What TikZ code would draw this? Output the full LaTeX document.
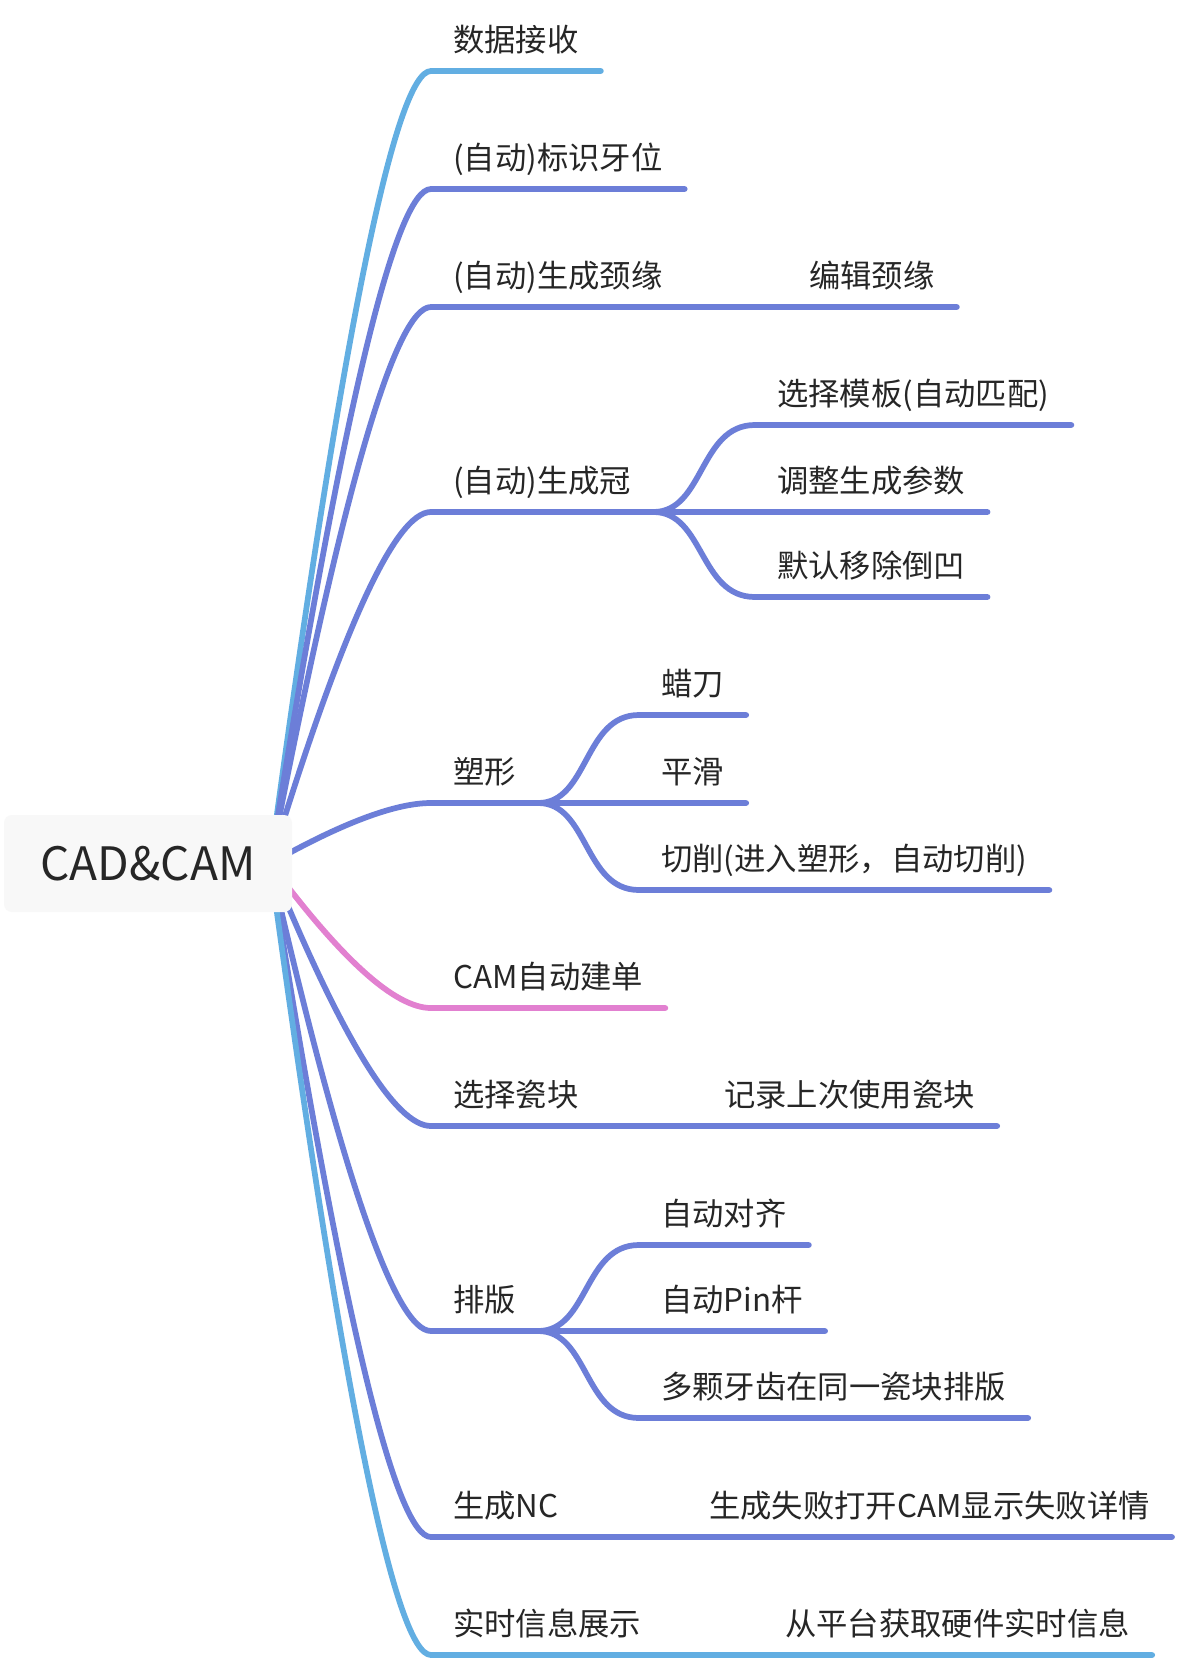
\documentclass[tikz,border=0pt]{standalone}
\usepackage{fontspec}
\setmainfont{Noto Sans CJK SC}
\usetikzlibrary{calc,backgrounds}
\definecolor{linepurple}{RGB}{108,126,216}
\definecolor{lineblue}{RGB}{98,174,226}
\definecolor{linepink}{RGB}{226,128,208}
\definecolor{textgray}{RGB}{38,38,38}
\definecolor{rootfill}{RGB}{248,248,248}
\tikzset{
	topic/.style={anchor=south west, inner xsep=16.5pt, inner ysep=14.5pt, text depth=0pt, text=textgray, font=\fontsize{23.5}{28}\selectfont},
	rootbox/.style={fill=rootfill, rounded corners=6pt, minimum width=216pt, minimum height=72.75pt, text=textgray, font=\fontsize{34.5}{40}\selectfont},
	branch/.style={line width=4.3pt, line cap=round, line join=round, draw=linepurple},
	curve/.style={to path={let \p1=(\tikztostart), \p2=(\tikztotarget) in .. controls ({\x1+0.444*(\x2-\x1)}, {\y1+0.667*(\y2-\y1)}) and ({\x2-0.222*(\x2-\x1)}, \y2) .. (\tikztotarget)}},
	scurve/.style={to path={let \p1=(\tikztostart), \p2=(\tikztotarget) in .. controls ({\x1+0.5*(\x2-\x1)}, \y1) and ({\x1+0.45*(\x2-\x1)}, \y2) .. (\tikztotarget)}}
}

\begin{document}
\begin{tikzpicture}[x=0.75pt, y=-0.75pt]
		%%%%% START %%%%%
		\useasboundingbox (0, 0) rectangle (1190, 1662);
		
		\node[rootbox] (root) at (148, 863.5) {CAD\&CAM};
		\coordinate (hub) at ([xshift=-16.5pt]root.east);
		
		\node[topic] (recv) at (431, 71) {数据接收};
		\node[topic] (mark) at (431, 189) {(自动)标识牙位};
		\node[topic] (margin) at (431, 307) {(自动)生成颈缘};
		\node[topic] (edit) at (787, 307) {编辑颈缘};
		
		\node[topic] (crown) at (431, 512) {(自动)生成冠};
		\node[topic] (tmpl) at (755, 425) {选择模板(自动匹配)};
		\node[topic] (param) at (755, 512) {调整生成参数};
		\node[topic] (undercut) at (755, 597) {默认移除倒凹};
		
		\node[topic] (shape) at (431, 803) {塑形};
		\node[topic] (wax) at (639, 715) {蜡刀};
		\node[topic] (smooth) at (639, 803) {平滑};
		\node[topic] (cut) at (639, 890) {切削(进入塑形，自动切削)};
		
		\node[topic] (order) at (431, 1008) {CAM自动建单};
		\node[topic] (block) at (431, 1126) {选择瓷块};
		\node[topic] (lastblock) at (702, 1126) {记录上次使用瓷块};
		
		\node[topic] (nest) at (431, 1331) {排版};
		\node[topic] (align) at (639, 1245) {自动对齐};
		\node[topic] (pin) at (639, 1331) {自动Pin杆};
		\node[topic] (multi) at (639, 1418) {多颗牙齿在同一瓷块排版};
		
		\node[topic] (nc) at (431, 1537) {生成NC};
		\node[topic] (ncfail) at (687, 1537) {生成失败打开CAM显示失败详情};
		\node[topic] (info) at (431, 1655) {实时信息展示};
		\node[topic] (hwinfo) at (763, 1655) {从平台获取硬件实时信息};
		
		\begin{scope}[on background layer]
			\fill[white] (0, 0) rectangle (1190, 1662);
			
			\draw[branch, draw=lineblue] (hub) to[curve] (recv.south west) -- (recv.south east);
			\draw[branch] (hub) to[curve] (mark.south west) -- (mark.south east);
			\draw[branch] (hub) to[curve] (margin.south west) -- (margin.south east) -- (edit.south west) -- (edit.south east);
			
			\draw[branch] (hub) to[curve] (crown.south west) -- (crown.south east) -- (param.south west) -- (param.south east);
			\draw[branch] (crown.south east) to[scurve] (tmpl.south west) -- (tmpl.south east);
			\draw[branch] (crown.south east) to[scurve] (undercut.south west) -- (undercut.south east);
			
			\draw[branch] (hub) to[curve] (shape.south west) -- (shape.south east) -- (smooth.south west) -- (smooth.south east);
			\draw[branch] (shape.south east) to[scurve] (wax.south west) -- (wax.south east);
			\draw[branch] (shape.south east) to[scurve] (cut.south west) -- (cut.south east);
			
			\draw[branch, draw=linepink] (hub) to[curve] (order.south west) -- (order.south east);
			\draw[branch] (hub) to[curve] (block.south west) -- (block.south east) -- (lastblock.south west) -- (lastblock.south east);
			
			\draw[branch] (hub) to[curve] (nest.south west) -- (nest.south east) -- (pin.south west) -- (pin.south east);
			\draw[branch] (nest.south east) to[scurve] (align.south west) -- (align.south east);
			\draw[branch] (nest.south east) to[scurve] (multi.south west) -- (multi.south east);
			
			\draw[branch] (hub) to[curve] (nc.south west) -- (nc.south east) -- (ncfail.south west) -- (ncfail.south east);
			\draw[branch, draw=lineblue] (hub) to[curve] (info.south west) -- (info.south east) -- (hwinfo.south west) -- (hwinfo.south east);
		\end{scope}
		
		%%%%% END %%%%%
	\end{tikzpicture}
\end{document}
